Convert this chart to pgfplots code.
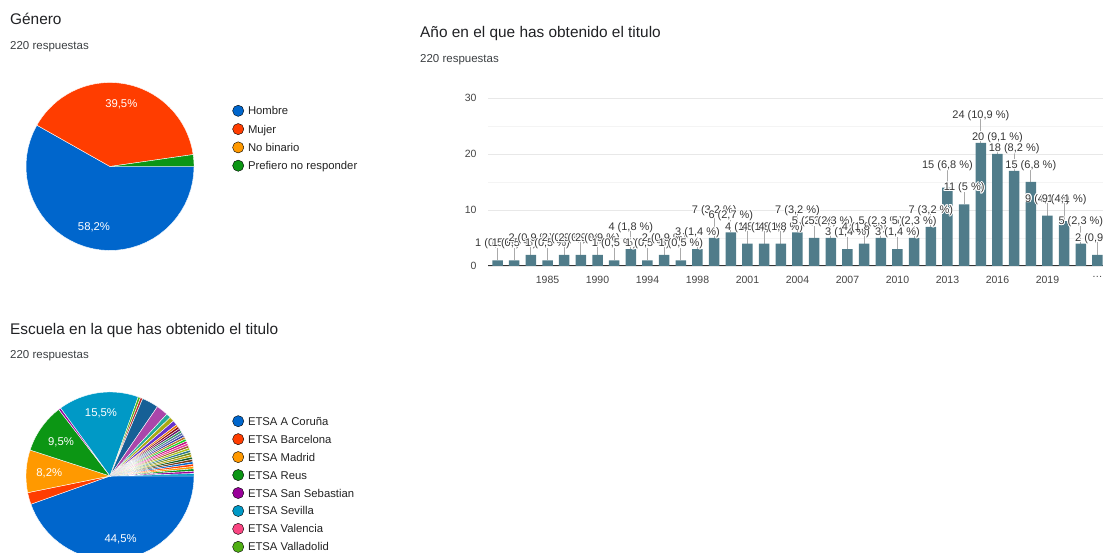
\documentclass[border=0pt]{standalone}
\usepackage{pgfplots}
\pgfplotsset{compat=1.18}
\usepackage{pgfplotstable}
\usepackage{fontspec}
\setmainfont{Liberation Sans}
\usepackage{contour}
\contourlength{0.9pt}
\contournumber{16}

\definecolor{barcol}{RGB}{80,124,138}
\definecolor{titlecol}{RGB}{32,33,36}
\definecolor{subcol}{RGB}{60,64,67}
\definecolor{legtext}{RGB}{34,34,34}
\definecolor{ticklab}{RGB}{68,68,68}
\definecolor{labtext}{RGB}{55,55,55}
\definecolor{stemcol}{RGB}{170,170,170}
\definecolor{gridmaj}{RGB}{232,232,232}
\definecolor{gridmin}{RGB}{244,244,244}
\definecolor{basecol}{RGB}{51,51,51}
\definecolor{cA}{RGB}{0,102,204}
\definecolor{cB}{RGB}{255,61,0}
\definecolor{cC}{RGB}{255,153,0}
\definecolor{cD}{RGB}{12,150,20}
\definecolor{cE}{RGB}{153,0,153}
\definecolor{cF}{RGB}{0,153,198}
\definecolor{cG}{RGB}{250,70,130}
\definecolor{cH}{RGB}{80,175,20}
\definecolor{p9}{RGB}{184,46,46}
\definecolor{p10}{RGB}{22,96,150}
\definecolor{p11}{RGB}{170,70,170}
\definecolor{p12}{RGB}{34,170,153}
\definecolor{p13}{RGB}{170,170,17}
\definecolor{p14}{RGB}{102,51,204}
\definecolor{p15}{RGB}{230,115,0}
\definecolor{p16}{RGB}{139,7,7}
\definecolor{p17}{RGB}{101,16,103}
\definecolor{p18}{RGB}{50,146,98}
\definecolor{p19}{RGB}{85,116,166}
\definecolor{p20}{RGB}{59,62,172}
\definecolor{p21}{RGB}{183,115,34}
\definecolor{p22}{RGB}{22,214,32}
\definecolor{p23}{RGB}{185,19,131}
\definecolor{p24}{RGB}{244,53,158}
\definecolor{p25}{RGB}{156,89,53}
\definecolor{p26}{RGB}{169,196,19}
\definecolor{p27}{RGB}{42,119,141}
\definecolor{p28}{RGB}{102,141,28}
\definecolor{p29}{RGB}{190,164,19}
\definecolor{p30}{RGB}{12,89,34}
\definecolor{p31}{RGB}{116,52,17}

% i = bar index, h = drawn height, n = count in label, lab = label text
\pgfplotstableread[col sep=semicolon]{
i;h;n;lab
0;1;1;1 (0,5 \%)
1;1;1;1 (0,5 \%)
2;2;2;2 (0,9 \%)
3;1;1;1 (0,5 \%)
4;2;2;2 (0,9 \%)
5;2;2;2 (0,9 \%)
6;2;2;2 (0,9 \%)
7;1;1;1 (0,5 \%)
8;3;4;4 (1,8 \%)
9;1;1;1 (0,5 \%)
10;2;2;2 (0,9 \%)
11;1;1;1 (0,5 \%)
12;3;3;3 (1,4 \%)
13;5;7;7 (3,2 \%)
14;6;6;6 (2,7 \%)
15;4;4;4 (1,8 \%)
16;4;4;4 (1,8 \%)
17;4;4;4 (1,8 \%)
18;6;7;7 (3,2 \%)
19;5;5;5 (2,3 \%)
20;5;5;5 (2,3 \%)
21;3;3;3 (1,4 \%)
22;4;4;4 (1,8 \%)
23;5;5;5 (2,3 \%)
24;3;3;3 (1,4 \%)
25;5;5;5 (2,3 \%)
26;7;7;7 (3,2 \%)
27;14;15;15 (6,8 \%)
28;11;11;11 (5 \%)
29;22;24;24 (10,9 \%)
30;20;20;20 (9,1 \%)
31;17;18;18 (8,2 \%)
32;15;15;15 (6,8 \%)
33;9;9;9 (4,1 \%)
34;8;9;9 (4,1 \%)
35;4;5;5 (2,3 \%)
36;2;2;2 (0,9 \%)
}\bardata

\pgfplotsset{
  pie/.style={hide axis, scale only axis, width=168pt, height=168pt,
    xmin=-1, xmax=1, ymin=-1, ymax=1, anchor=center, clip=false,
    legend cell align=left,
    legend image code/.code={\fill[##1] (5.6pt,0pt) circle (5.6pt);},
    legend style={draw=none, fill=none, inner sep=0pt, outer sep=0pt,
      anchor=north west, font=\fontsize{11.3}{13}\selectfont, text=legtext,
      row sep=6.7pt, column sep=4pt,
      nodes={inner sep=0pt, text height=9.4pt, text depth=1.3pt}}},
}
% slice: colour, first count, last count (out of 220), clockwise from 3 o'clock
\newcommand\slice[3]{\addplot[fill=#1, draw=white, line width=0.4pt, forget plot,
  domain=-#3*1.6363636:-#2*1.6363636, samples=40] ({cos(x)},{sin(x)}) -- (axis cs:0,0) -- cycle;}

\begin{document}
\begin{tikzpicture}
\path[use as bounding box] (0pt,0pt) rectangle (1103pt,553pt);

% titles
\node[anchor=base west, inner sep=0pt, font=\fontsize{15.4}{18}\selectfont, text=titlecol] at (10pt,528pt) {Género};
\node[anchor=base west, inner sep=0pt, font=\fontsize{11.5}{14}\selectfont, text=subcol] at (10pt,503.5pt) {220 respuestas};
\node[anchor=base west, inner sep=0pt, font=\fontsize{15.4}{18}\selectfont, text=titlecol] at (420pt,515pt) {Año en el que has obtenido el titulo};
\node[anchor=base west, inner sep=0pt, font=\fontsize{11.5}{14}\selectfont, text=subcol] at (420pt,490pt) {220 respuestas};
\node[anchor=base west, inner sep=0pt, font=\fontsize{15.4}{18}\selectfont, text=titlecol] at (10pt,218.7pt) {Escuela en la que has obtenido el titulo};
\node[anchor=base west, inner sep=0pt, font=\fontsize{11.5}{14}\selectfont, text=subcol] at (10pt,194pt) {220 respuestas};

% ---------- bar chart ----------
\begin{axis}[
  at={(488pt,287pt)}, anchor=south west, scale only axis,
  width=617.8pt, height=168pt, clip=false,
  xmin=-0.57, xmax=36.5, ymin=0, ymax=30,
  ytick={0,10,20,30}, minor ytick={5,15,25},
  xtick={3,6,...,36},
  xticklabels={1985,1990,1994,1998,2001,2004,2007,2010,2013,2016,2019,{\ldots}},
  ymajorgrids, yminorgrids,
  major grid style={draw=gridmaj, line width=0.8pt},
  minor grid style={draw=gridmin, line width=0.8pt},
  axis x line*=bottom, axis y line*=left,
  y axis line style={draw=none},
  x axis line style={draw=basecol, line width=1pt, -},
  major tick length=0pt, minor tick length=0pt,
  tick style={draw=none},
  /pgf/number format/assume math mode=true,
  tick label style={font=\fontsize{10.5}{12}\selectfont, text=ticklab},
  xticklabel style={inner sep=0pt, anchor=north, yshift=-9.7pt},
  yticklabel style={inner sep=0pt, anchor=east, xshift=-11.3pt},
]
\addplot[draw=none, mark=none,
  error bars/.cd, y dir=plus, y explicit, error mark=none,
  error bar style={draw=stemcol, line width=0.8pt}]
  table[x=i, y=h, y error expr=\thisrow{n}+2.2-\thisrow{h}] {\bardata};
\addplot[ybar, bar width=10.5pt, fill=barcol, draw=none] table[x=i, y=h] {\bardata};
\addplot[draw=none, mark=none, point meta=explicit symbolic,
  nodes near coords={\contour{white}{\pgfplotspointmeta}},
  nodes near coords style={anchor=center, inner sep=0pt, font=\fontsize{11}{13}\selectfont, text=labtext}]
  table[x=i, y expr=\thisrow{n}+2.85, meta=lab] {\bardata};
\end{axis}

% ---------- pie 1 ----------
\begin{axis}[pie, at={(110pt,386.5pt)}, legend style={at={(1.2286,0.866)}}]
\slice{cA}{0}{128}
\slice{cB}{128}{215}
\slice{cD}{215}{220}
\addlegendimage{fill=cA}\addlegendentry{Hombre}
\addlegendimage{fill=cB}\addlegendentry{Mujer}
\addlegendimage{fill=cC}\addlegendentry{No binario}
\addlegendimage{fill=cD}\addlegendentry{Prefiero no responder}
\end{axis}
\node[text=white, font=\fontsize{11.3}{13}\selectfont] at (121.3pt,448.7pt) {39,5\%};
\node[text=white, font=\fontsize{11.3}{13}\selectfont] at (94pt,325.3pt) {58,2\%};

% ---------- pie 2 ----------
\begin{axis}[pie, at={(110pt,77pt)}, legend style={at={(1.2286,0.8607)}, row sep=6.35pt}]
\slice{cA}{0}{98}
\slice{cB}{98}{103}
\slice{cC}{103}{121}
\slice{cD}{121}{142}
\slice{cE}{142}{143}
\slice{cF}{143}{177}
\slice{cH}{177}{178}
\slice{p9}{178}{179}
\slice{p10}{179}{186}
\slice{p11}{186}{191}
\slice{p12}{191}{193}
\slice{p13}{193}{195}
\slice{p14}{195}{197}
\slice{p15}{197}{198}
\slice{p16}{198}{199}
\slice{p17}{199}{200}
\slice{p18}{200}{201}
\slice{p19}{201}{202}
\slice{p20}{202}{203}
\slice{p21}{203}{204}
\slice{p22}{204}{205}
\slice{p23}{205}{206}
\slice{p24}{206}{207}
\slice{p25}{207}{208}
\slice{p26}{208}{209}
\slice{p27}{209}{210}
\slice{p28}{210}{211}
\slice{p29}{211}{212}
\slice{p30}{212}{213}
\slice{p31}{213}{214}
\slice{cA}{214}{215}
\slice{cB}{215}{216}
\slice{cC}{216}{217}
\slice{cD}{217}{218}
\slice{cE}{218}{219}
\slice{cF}{219}{220}
\addlegendimage{fill=cA}\addlegendentry{ETSA A Coruña}
\addlegendimage{fill=cB}\addlegendentry{ETSA Barcelona}
\addlegendimage{fill=cC}\addlegendentry{ETSA Madrid}
\addlegendimage{fill=cD}\addlegendentry{ETSA Reus}
\addlegendimage{fill=cE}\addlegendentry{ETSA San Sebastian}
\addlegendimage{fill=cF}\addlegendentry{ETSA Sevilla}
\addlegendimage{fill=cG}\addlegendentry{ETSA Valencia}
\addlegendimage{fill=cH}\addlegendentry{ETSA Valladolid}
\end{axis}
\node[text=white, font=\fontsize{11.3}{13}\selectfont] at (101pt,139.7pt) {15,5\%};
\node[text=white, font=\fontsize{11.3}{13}\selectfont] at (61pt,110.3pt) {9,5\%};
\node[text=white, font=\fontsize{11.3}{13}\selectfont] at (49.3pt,79.7pt) {8,2\%};
\node[text=white, font=\fontsize{11.3}{13}\selectfont] at (120.7pt,13.7pt) {44,5\%};
\end{tikzpicture}
\end{document}
